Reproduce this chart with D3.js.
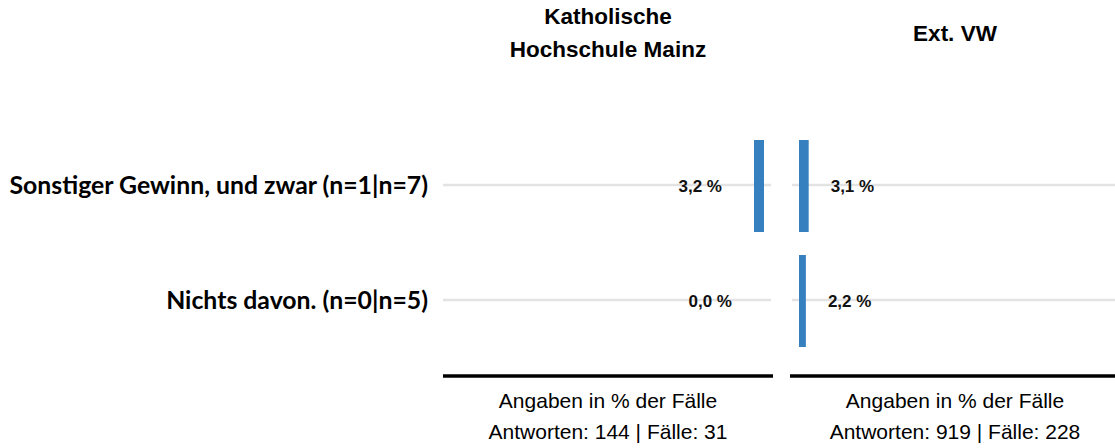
<!DOCTYPE html>
<html>
<head>
<meta charset="utf-8">
<script src="https://cdn.jsdelivr.net/npm/d3@7"></script>
<style>
  body { margin: 0; background: #fff; }
  text { font-family: "Liberation Sans", Arial, sans-serif; fill: #000; }
</style>
</head>
<body>
<div id="chart"></div>
<script>
// data
var categories = ["Sonstiger Gewinn, und zwar (n=1|n=7)", "Nichts davon. (n=0|n=5)"];
var groups = ["Katholische Hochschule Mainz", "Ext. VW"];
var groupTitles = [["Katholische", "Hochschule Mainz"], ["Ext. VW"]];
var valuesKH = [3.2, 0.0];
var valuesVW = [3.1, 2.2];
var footers = [
  ["Angaben in % der Fälle", "Antworten: 144 | Fälle: 31"],
  ["Angaben in % der Fälle", "Antworten: 919 | Fälle: 228"]
];

var width = 1115, height = 448;

var svg = d3.select("#chart")
  .append("svg")
  .attr("width", width)
  .attr("height", height);

// panels
var panels = [
  { left: 443, right: 773, values: valuesKH, side: "left" },
  { left: 790, right: 1120, values: valuesVW, side: "right" }
];

var y = d3.scaleBand()
  .domain(categories)
  .range([128.5, 358.5])
  .paddingInner(0.2)
  .paddingOuter(0.1);

var fmt = function (v) { return d3.format(".1f")(v).replace(".", ",") + " %"; };

// category labels
svg.append("g").selectAll("text")
  .data(categories)
  .enter()
  .append("text")
  .attr("x", 428)
  .attr("y", function (d) { return y(d) + y.bandwidth() / 2 + 8; })
  .attr("text-anchor", "end")
  .style("font-family", "Lato, 'Open Sans', sans-serif")
  .style("font-weight", "bold")
  .style("font-size", "24.8px")
  .text(function (d) { return d; });

panels.forEach(function (p, i) {
  var g = svg.append("g");
  var cx = (p.left + p.right) / 2;

  var x = d3.scaleLinear().domain([0, 100]);
  if (p.side === "left") x.range([764, 764 - 312.5]);
  else x.range([799, 799 + 312.5]);

  // grid lines
  g.selectAll("line.grid")
    .data(categories)
    .enter()
    .append("line")
    .attr("class", "grid")
    .attr("x1", p.side === "left" ? p.left : p.left + 2)
    .attr("x2", p.side === "left" ? p.right - 2 : p.right)
    .attr("y1", function (d) { return y(d) + y.bandwidth() / 2 - 1; })
    .attr("y2", function (d) { return y(d) + y.bandwidth() / 2 - 1; })
    .attr("stroke", "#e3e3e3")
    .attr("stroke-width", 2.5);

  // bars
  g.selectAll("rect")
    .data(p.values)
    .enter()
    .append("rect")
    .attr("x", function (d) { return Math.min(x(0), x(d)); })
    .attr("y", function (d, j) { return y(categories[j]); })
    .attr("width", function (d) { return Math.abs(x(d) - x(0)); })
    .attr("height", y.bandwidth())
    .attr("fill", "#3780c0");

  // value labels
  g.selectAll("text.val")
    .data(p.values)
    .enter()
    .append("text")
    .attr("class", "val")
    .attr("x", function (d) { return p.side === "left" ? x(d) - 32 : x(d) + 22; })
    .attr("y", function (d, j) { return y(categories[j]) + y.bandwidth() / 2 + 6; })
    .attr("text-anchor", p.side === "left" ? "end" : "start")
    .style("font-weight", "bold")
    .style("font-size", "17px")
    .style("fill", "#111")
    .text(fmt);

  // titles
  var lines = groupTitles[i];
  var ys = lines.length === 2 ? [24, 57] : [41];
  g.selectAll("text.title")
    .data(lines)
    .enter()
    .append("text")
    .attr("class", "title")
    .attr("x", cx)
    .attr("y", function (d, k) { return ys[k]; })
    .attr("text-anchor", "middle")
    .style("font-weight", "bold")
    .style("font-size", "22.5px")
    .text(function (d) { return d; });

  // bottom axis line
  g.append("line")
    .attr("x1", p.left)
    .attr("x2", p.right)
    .attr("y1", 376)
    .attr("y2", 376)
    .attr("stroke", "#000")
    .attr("stroke-width", 3.5);

  // footers
  g.selectAll("text.foot")
    .data(footers[i])
    .enter()
    .append("text")
    .attr("class", "foot")
    .attr("x", cx)
    .attr("y", function (d, k) { return k === 0 ? 408 : 438.5; })
    .attr("text-anchor", "middle")
    .style("font-size", "21px")
    .text(function (d) { return d; });
});
</script>
</body>
</html>
